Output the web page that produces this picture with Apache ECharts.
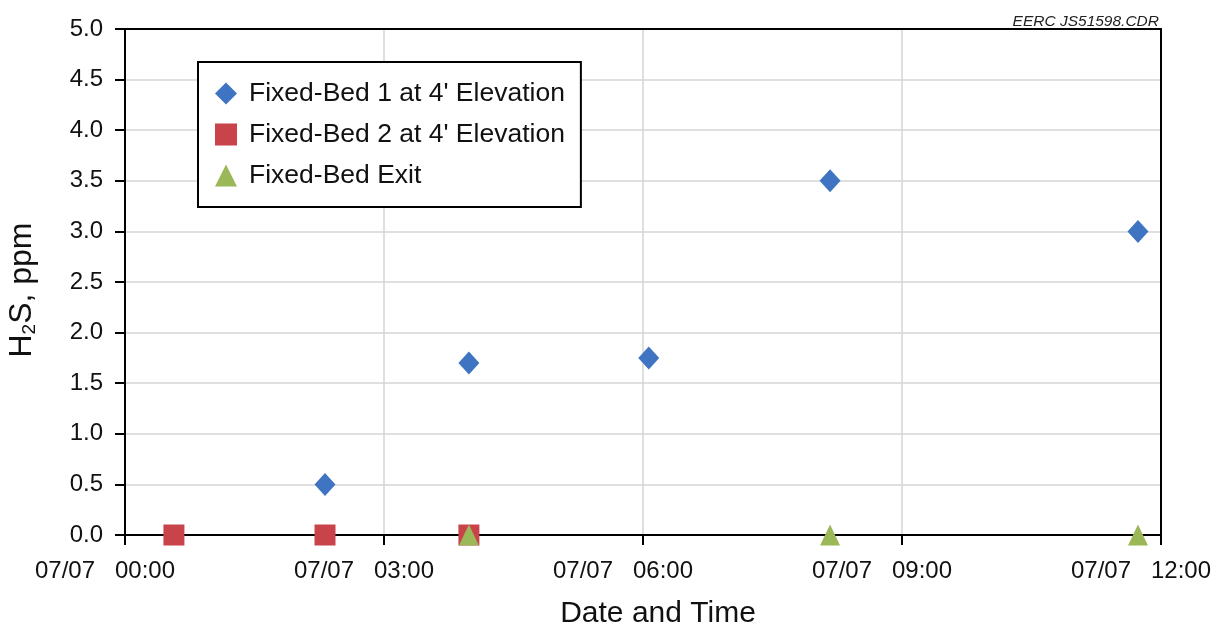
<!DOCTYPE html>
<html>
<head>
<meta charset="utf-8">
<title>H2S vs time</title>
<script src="https://cdn.jsdelivr.net/npm/echarts@6/dist/echarts.min.js"></script>
<style>
  html, body { margin: 0; padding: 0; background: #fff; }
  #chart { width: 1217px; height: 625px; }
</style>
</head>
<body>
<div id="chart"></div>
<script>
// data (07/07, hh:mm)
var bed1Times = ['02:19', '03:59', '06:04', '08:10', '11:44'];
var bed1Values = [0.5, 1.7, 1.75, 3.5, 3.0];
var bed2Times = ['00:34', '02:19', '03:59'];
var bed2Values = [0, 0, 0];
var exitTimes = ['03:59', '08:10', '11:44'];
var exitValues = [0, 0, 0];
var seriesNames = ['Fixed-Bed 1 at 4\' Elevation', 'Fixed-Bed 2 at 4\' Elevation', 'Fixed-Bed Exit'];
var dayLabel = '07/07';

// hh:mm -> hours
function toHours(t) {
  var p = t.split(':');
  return Number(p[0]) + Number(p[1]) / 60;
}
function pairs(times, vals) {
  return times.map(function (t, i) { return [toHours(t), vals[i]]; });
}
function pad(n) { return (n < 10 ? '0' : '') + n; }

var chart = echarts.init(document.getElementById('chart'));
var font = '"Liberation Sans", Arial, sans-serif';

// top / right frame lines drawn by hidden axes so they sit above the grid lines
var frameAxis = {
  axisLine: { show: true, onZero: false, lineStyle: { color: '#000', width: 2 } },
  axisTick: { show: false },
  axisLabel: { show: false },
  splitLine: { show: false }
};

var option = {
  backgroundColor: '#fff',
  animation: false,
  title: {
    text: 'EERC JS51598.CDR',
    right: 53,
    top: 9,
    textStyle: { fontFamily: font, fontSize: 15.5, fontStyle: 'italic', fontWeight: 'normal', color: '#222' }
  },
  grid: { left: 125, top: 29, right: 56, bottom: 90, outerBoundsMode: 'none' },
  legend: {
    orient: 'vertical',
    left: 198, top: 62,
    padding: [18, 16, 18, 17],
    itemGap: 14,
    itemWidth: 22, itemHeight: 22,
    itemTextGap: 19,
    backgroundColor: '#fff',
    borderColor: '#000',
    borderWidth: 2,
    textStyle: { fontFamily: font, fontSize: 26.5, color: '#111', padding: [0, 0, 0, 7] },
    data: [
      { name: seriesNames[0], icon: 'diamond' },
      { name: seriesNames[1], icon: 'rect' },
      { name: seriesNames[2], icon: 'triangle' }
    ]
  },
  xAxis: [{
    type: 'value',
    min: 0, max: 12, interval: 3,
    name: 'Date and Time',
    nameLocation: 'middle',
    nameGap: 64,
    nameTextStyle: { fontFamily: font, fontSize: 30, color: '#111', padding: [0, 0, 0, 30] },
    axisLine: { lineStyle: { color: '#000', width: 2 } },
    axisTick: { show: true, inside: false, length: 10, lineStyle: { color: '#000', width: 2 } },
    axisLabel: {
      fontFamily: font, fontSize: 24, color: '#111', margin: 24,
      padding: [0, 40, 0, 0],
      formatter: function (v) { return dayLabel + '   ' + pad(v) + ':00'; }
    },
    splitLine: { show: true, lineStyle: { color: '#d4d4d4', width: 1.5 } }
  }, Object.assign({ type: 'value', position: 'top', min: 0, max: 12 }, frameAxis)],
  yAxis: [{
    type: 'value',
    min: 0, max: 5, interval: 0.5,
    name: 'H{sub|2}S, ppm',
    nameLocation: 'middle',
    nameGap: 86,
    nameTextStyle: {
      fontFamily: font, fontSize: 32, color: '#111', padding: [0, 16, 0, 0],
      rich: { sub: { fontFamily: font, fontSize: 19, color: '#111', padding: [14, 0, 0, 0] } }
    },
    axisLine: { lineStyle: { color: '#000', width: 2 } },
    axisTick: { show: true, inside: false, length: 10, lineStyle: { color: '#000', width: 2 } },
    axisLabel: {
      fontFamily: font, fontSize: 24, color: '#111', margin: 22,
      formatter: function (v) { return v.toFixed(1); }
    },
    splitLine: { show: true, lineStyle: { color: '#d4d4d4', width: 1.5 } }
  }, Object.assign({ type: 'value', position: 'right', min: 0, max: 5 }, frameAxis)],
  series: [
    {
      name: seriesNames[0], type: 'scatter', symbol: 'diamond', symbolSize: [21, 23],
      clip: false, itemStyle: { color: '#3f74c2', opacity: 1 },
      data: pairs(bed1Times, bed1Values)
    },
    {
      name: seriesNames[1], type: 'scatter', symbol: 'rect', symbolSize: 21,
      clip: false, itemStyle: { color: '#c9434a', opacity: 1 },
      data: pairs(bed2Times, bed2Values)
    },
    {
      name: seriesNames[2], type: 'scatter', symbol: 'triangle', symbolSize: [20, 21],
      clip: false, itemStyle: { color: '#9bb858', opacity: 1 },
      data: pairs(exitTimes, exitValues)
    }
  ]
};

chart.setOption(option);
</script>
</body>
</html>
